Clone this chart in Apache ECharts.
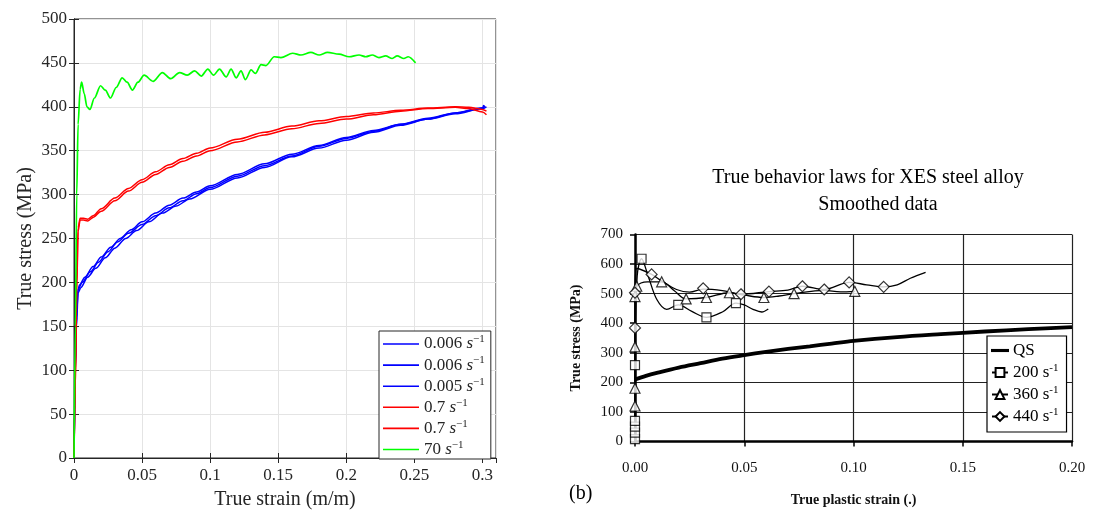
<!DOCTYPE html>
<html><head><meta charset="utf-8">
<script src="https://cdn.jsdelivr.net/npm/echarts@6/dist/echarts.min.js"></script>
<style>html,body{margin:0;padding:0;background:#fff}#c{width:1094px;height:515px}</style>
</head><body><div id="c"></div>
<script>
// ---------- Left panel data (true strain, true stress MPa) ----------
const leftKeys = ['b1','b2','b3','r1','r2','g1'];
const leftRates = ['0.006','0.006','0.005','0.7','0.7','70'];
const blue1 = [[0,0],[0.0005,60],[0.001,110],[0.0018,160],[0.0028,190],[0.004,197],[0.008,206],[0.014,218],[0.02,229],[0.027,240],[0.034,250],[0.042,260],[0.05,269],[0.06,279],[0.07,288],[0.08,296],[0.09,303],[0.1,310],[0.12,323],[0.14,335],[0.16,346],[0.18,356],[0.2,365],[0.22,373],[0.24,380],[0.26,387],[0.28,393],[0.3,399],[0.302,401]];
const blue2 = [[0,0],[0.0005,50],[0.001,100],[0.0018,150],[0.003,188],[0.005,194],[0.01,206],[0.016,216],[0.023,228],[0.03,239],[0.038,250],[0.046,259],[0.055,269],[0.065,279],[0.075,287],[0.085,295],[0.1,306],[0.12,319],[0.14,331],[0.16,343],[0.18,353],[0.2,362],[0.22,371],[0.24,379],[0.26,386],[0.28,392],[0.3,398],[0.301,402]];
const blue3 = [[0,0],[0.0005,55],[0.001,105],[0.002,165],[0.003,192],[0.006,200],[0.012,212],[0.018,223],[0.025,235],[0.032,246],[0.04,256],[0.05,266],[0.06,276],[0.07,285],[0.08,293],[0.09,301],[0.1,308],[0.12,321],[0.14,333],[0.16,344],[0.18,355],[0.2,364],[0.22,372],[0.24,380],[0.26,386],[0.28,393],[0.3,398],[0.303,400]];
const red1 = [[0,0],[0.001,90],[0.002,200],[0.003,262],[0.0045,273],[0.007,273],[0.01,272],[0.014,276],[0.02,284],[0.03,296],[0.04,307],[0.05,317],[0.06,326],[0.07,334],[0.08,341],[0.09,347],[0.1,353],[0.12,363],[0.14,371],[0.16,378],[0.18,384],[0.2,389],[0.22,393],[0.24,396],[0.26,398.5],[0.28,400],[0.29,399.5],[0.3,397],[0.303,395]];
const red2 = [[0,0],[0.001,80],[0.002,190],[0.003,258],[0.0045,271],[0.007,271],[0.01,270],[0.014,274],[0.02,281],[0.03,293],[0.04,304],[0.05,314],[0.06,323],[0.07,331],[0.08,338],[0.09,344],[0.1,350],[0.12,360],[0.14,368],[0.16,375],[0.18,381],[0.2,386],[0.22,391],[0.24,395],[0.26,398],[0.28,399.5],[0.29,398],[0.3,394],[0.303,391]];
const green1 = [[0,0],[0.001,150],[0.002,300],[0.003,380],[0.0045,420],[0.0056,428],[0.0075,415],[0.0095,400],[0.0117,397],[0.015,410],[0.0195,424],[0.023,419],[0.0268,410],[0.031,422],[0.0354,433],[0.039,428],[0.0429,419],[0.047,428],[0.0515,436],[0.0581,429],[0.0649,439],[0.071,432],[0.0776,439],[0.0832,436],[0.0886,441],[0.0935,435],[0.0983,443],[0.1025,436],[0.1069,443],[0.1118,434],[0.1154,443],[0.1191,433],[0.1227,441],[0.1259,431],[0.1301,442],[0.1332,438],[0.1374,448],[0.141,447],[0.1471,457],[0.152,456],[0.1606,461],[0.1667,459],[0.174,462],[0.1801,459],[0.1862,462],[0.1947,460],[0.2021,457],[0.2094,459],[0.2143,457],[0.2191,459],[0.224,456],[0.2289,458],[0.2338,455],[0.2374,458],[0.2423,455],[0.2455,457],[0.2509,450]];
const leftData = [blue1, blue2, blue3, red1, red2, green1];
const leftColors = ['#0000ff','#0000ff','#0000ff','#ff0000','#ff0000','#00ff00'];

// ---------- Right panel data (true plastic strain, true stress MPa) ----------
const rightKeys = ['QS','200','360','440'];
const qsLine = [[0,210],[0.005,222],[0.01,232],[0.02,250],[0.03,265],[0.04,280],[0.05,292],[0.06,303],[0.07,313],[0.08,322],[0.09,331],[0.1,340],[0.12,353],[0.14,363],[0.16,372],[0.18,380],[0.2,387]];
const r200Line = [[0,0],[0,258],[0.001,560],[0.003,618],[0.006,560],[0.01,480],[0.0145,447],[0.0198,462],[0.026,440],[0.0327,420],[0.04,438],[0.0462,468],[0.05,462],[0.054,447],[0.058,438],[0.061,448]];
const r200Marks = [[0,8],[0,30],[0,50],[0,70],[0,258],[0.003,618],[0.0198,462],[0.0327,420],[0.0462,468]];
const r360Line = [[0,0],[0,120],[0,180],[0,320],[0,490],[0.0008,525],[0.0057,540],[0.0122,540],[0.018,510],[0.0234,482],[0.0327,487],[0.0432,503],[0.05,495],[0.059,487],[0.066,492],[0.0728,500],[0.0866,511],[0.094,506],[0.1006,508]];
const r360Marks = [[0,120],[0,180],[0,320],[0,490],[0.0008,525],[0.0122,540],[0.0234,482],[0.0327,487],[0.0432,503],[0.059,487],[0.0728,500],[0.1006,508]];
const r440Line = [[0,0],[0,384],[0,503],[0.0008,585],[0.0076,565],[0.0122,543],[0.019,514],[0.025,505],[0.0312,515],[0.04,510],[0.0485,498],[0.0613,507],[0.07,512],[0.0766,525],[0.0866,514],[0.098,538],[0.106,530],[0.1138,523],[0.12,530],[0.126,552],[0.133,572]];
const r440Marks = [[0,384],[0,503],[0.0076,565],[0.0312,518],[0.0485,498],[0.0613,507],[0.0766,525],[0.0866,514],[0.098,538],[0.1138,523]];

// ---------- Ticks ----------
const leftXTicks = {min:0, max:0.31, interval:0.05};
const leftYTicks = {min:0, max:500, interval:50};
const rightXTicks = {min:0, max:0.2, interval:0.05};
const rightYTicks = {min:0, max:700, interval:100};

const LF = 'Liberation Serif';
const AX = '#262626';

const chart = echarts.init(document.getElementById('c'), null, {renderer:'canvas'});

const leftSeries = leftData.map((d,i)=>({
  name: leftKeys[i], type:'line', xAxisIndex:0, yAxisIndex:0, data:d,
  showSymbol:false, symbol:'none', smooth:0.3, smoothMonotone:'x',
  lineStyle:{color:leftColors[i], width:i===5?1.7:1.5}, itemStyle:{color:leftColors[i]},
  z: i===5 ? 3 : 2, animation:false
}));

const mk = {color:'#fff', borderColor:'#000', borderWidth:1.2};
const rightLine = (name, data, sym, w) => ({
  name, type:'line', xAxisIndex:2, yAxisIndex:2, data, showSymbol:false, symbol:sym,
  smooth:0.35, lineStyle:{color:'#000', width:w}, itemStyle:mk, animation:false, z:3
});
const rightMarks = (name, data, sym, size) => ({
  name, type:'scatter', xAxisIndex:2, yAxisIndex:2, data, symbol:sym, symbolSize:size,
  itemStyle:mk, animation:false, z:4
});

const option = {
  backgroundColor:'#fff',
  animation:false,
  grid:[
    {left:74, top:19, width:422, height:443, show:true, borderColor:AX, borderWidth:1, backgroundColor:'transparent'},
    {left:635, top:234.5, width:437, height:207}
  ],
  xAxis:[
    {gridIndex:0, type:'value', ...leftXTicks,
     axisLine:{lineStyle:{color:AX}}, axisTick:{inside:true, length:5, lineStyle:{color:AX}},
     axisLabel:{fontFamily:LF, fontSize:17, color:AX, margin:9, showMaxLabel:false, formatter:v=>String(+v.toFixed(2))},
     splitLine:{lineStyle:{color:'#e4e4e4'}},
     name:'True strain (m/m)', nameLocation:'middle', nameGap:32,
     nameTextStyle:{fontFamily:LF, fontSize:20, color:AX}},
    {gridIndex:0, type:'value', position:'top', ...leftXTicks,
     axisLine:{lineStyle:{color:AX}}, axisTick:{inside:true, length:5, lineStyle:{color:AX}},
     axisLabel:{show:false}, splitLine:{show:false}},
    {gridIndex:1, type:'value', ...rightXTicks,
     axisLine:{lineStyle:{color:'#000', width:2.5}}, axisTick:{length:5, lineStyle:{color:'#000', width:1.5}},
     axisLabel:{fontFamily:LF, fontSize:15, color:'#111', margin:19, formatter:v=>v.toFixed(2)},
     splitLine:{lineStyle:{color:'#222', width:1.2}},
     name:'True plastic strain (.)', nameLocation:'middle', nameGap:52,
     nameTextStyle:{fontFamily:LF, fontSize:14, fontWeight:'bold', color:'#111'}}
  ],
  yAxis:[
    {gridIndex:0, type:'value', ...leftYTicks,
     axisLine:{lineStyle:{color:AX}}, axisTick:{inside:true, length:5, lineStyle:{color:AX}},
     axisLabel:{fontFamily:LF, fontSize:17, color:AX, margin:7},
     splitLine:{lineStyle:{color:'#e4e4e4'}},
     name:'True stress (MPa)', nameLocation:'middle', nameGap:38,
     nameTextStyle:{fontFamily:LF, fontSize:20, color:AX}},
    {gridIndex:0, type:'value', position:'right', ...leftYTicks,
     axisLine:{lineStyle:{color:AX}}, axisTick:{inside:true, length:5, lineStyle:{color:AX}},
     axisLabel:{show:false}, splitLine:{show:false}},
    {gridIndex:1, type:'value', ...rightYTicks,
     axisLine:{lineStyle:{color:'#000', width:2.5}}, axisTick:{length:5, lineStyle:{color:'#000', width:1.5}},
     axisLabel:{fontFamily:LF, fontSize:15, color:'#111', margin:12},
     splitLine:{lineStyle:{color:'#222', width:1.2}},
     name:'True stress (MPa)', nameLocation:'middle', nameGap:52,
     nameTextStyle:{fontFamily:LF, fontSize:14, fontWeight:'bold', color:'#111'}}
  ],
  legend:[
    {left:379, top:331, orient:'vertical', data:leftKeys, selectedMode:false,
     itemWidth:36, itemHeight:14, itemGap:2.6, icon:'path://M0,0L36,0L36,1.6L0,1.6Z',
     padding:[3,6,1,4], borderColor:AX, borderWidth:1, backgroundColor:'#fff',
     formatter:name=>{const i=leftKeys.indexOf(name); return '{n|'+leftRates[i]+' }{i|s}{sup|\u22121}';},
     textStyle:{fontFamily:LF, fontSize:17, color:AX,
       rich:{n:{fontFamily:LF, fontSize:17, lineHeight:20, color:AX},
             i:{fontFamily:LF, fontSize:17, lineHeight:20, fontStyle:'italic', color:AX},
             sup:{fontFamily:LF, fontSize:11, lineHeight:11, verticalAlign:'top', color:AX}}}},
    {left:987, top:336, orient:'vertical', selectedMode:false,
     data:[{name:'QS', icon:'path://M0,5L20,5L20,6.4L0,6.4Z'}, '200', '360', '440'],
     itemWidth:16, itemHeight:11, itemGap:3.5,
     padding:[6,8,7,4], borderColor:'#000', borderWidth:1.2, backgroundColor:'#fff',
     formatter:name=> name==='QS' ? '{n|QS}' : '{n|'+name+' s}{sup|-1}',
     textStyle:{fontFamily:LF, fontSize:17, color:'#000',
       rich:{n:{fontFamily:LF, fontSize:17, lineHeight:20, color:'#000'},
             sup:{fontFamily:LF, fontSize:11, lineHeight:11, verticalAlign:'top', color:'#000'}}}}
  ],
  graphic:[
    {type:'text', x:868, y:178, style:{text:'True behavior laws for XES steel alloy', font:'20px "Liberation Serif"', fill:'#000', textAlign:'center', textVerticalAlign:'middle'}},
    {type:'text', x:878, y:205, style:{text:'Smoothed data', font:'20px "Liberation Serif"', fill:'#000', textAlign:'center', textVerticalAlign:'middle'}},
    {type:'text', x:569, y:494, style:{text:'(b)', font:'20px "Liberation Serif"', fill:'#000', textAlign:'left', textVerticalAlign:'middle'}}
  ],
  series:[
    ...leftSeries,
    rightLine('QS', qsLine, 'none', 3.8),
    rightLine('200', r200Line, 'rect', 1.3),
    rightLine('360', r360Line, 'triangle', 1.3),
    rightLine('440', r440Line, 'diamond', 1.3),
    rightMarks('m200', r200Marks, 'rect', 9),
    rightMarks('m360', r360Marks, 'triangle', 10),
    rightMarks('m440', r440Marks, 'diamond', 11)
  ]
};
chart.setOption(option);
</script></body></html>
